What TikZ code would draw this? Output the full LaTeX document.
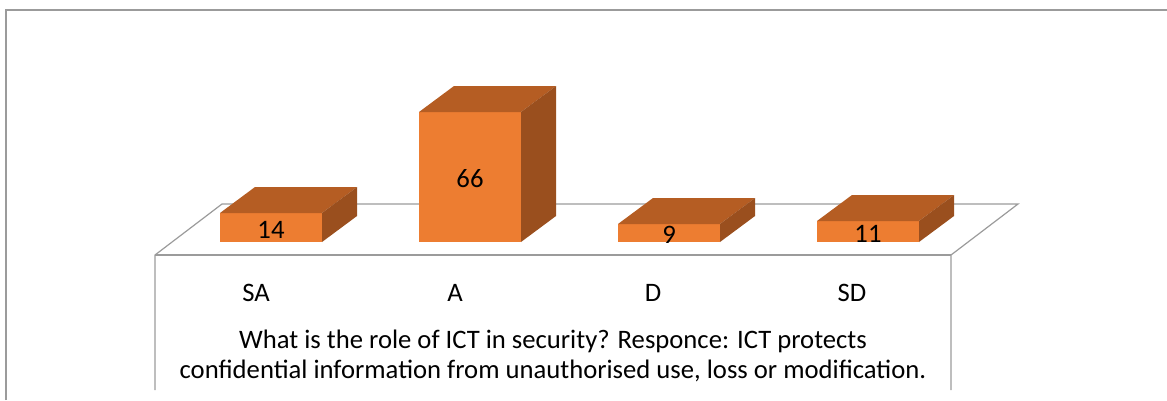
\documentclass[tikz,border=0pt]{standalone}
\usepackage{fontspec}
\setmainfont{Carlito}
\definecolor{barfront}{RGB}{237,125,49}
\definecolor{bartop}{RGB}{181,93,35}
\definecolor{barside}{RGB}{154,79,30}
\definecolor{framegray}{RGB}{155,155,155}
\begin{document}
\begin{tikzpicture}[x=0.75pt,y=0.75pt,yscale=-1,xscale=1,
  floorline/.style={draw=framegray,line width=0.9pt},
  valtext/.style={inner sep=0.75pt,font=\fontsize{20}{24}\selectfont},
  cattext/.style={inner sep=0.75pt,font=\fontsize{20}{24}\selectfont},
  titletext/.style={inner sep=0.75pt,align=center,font=\fontsize{20}{22.5}\selectfont}]
\useasboundingbox (0,0) rectangle (1167,400);

%Shape: Chart frame
\draw [framegray,line width=0.9pt] (6,400) -- (6,10) -- (1167,10) ;
%Shape: Floor
\draw [floorline] (155,390) -- (155,255) -- (222,204) -- (1018,204) -- (951,255) -- (951,390) ;
\draw [floorline] (155,255) -- (951,255) ;

%Shape: Bars (centre / height / value / name)
\foreach \cx/\h/\v/\n in {271/29/14/sa, 470/130/66/a, 669/18/9/d, 868/21/11/sd}{
  \fill [barfront] ({\cx-51},242) rectangle ({\cx+51},{242-\h}) ;
  \fill [bartop] ({\cx-51},{242-\h}) -- ({\cx+51},{242-\h}) -- ({\cx+86},{216-\h}) -- ({\cx-16},{216-\h}) -- cycle ;
  \fill [barside] ({\cx+51},242) -- ({\cx+51},{242-\h}) -- ({\cx+86},{216-\h}) -- ({\cx+86},216) -- cycle ;
  % Text Node
  \node [valtext] (val\n) at (\cx,{244-\h/2}) {\v} ;
}

% Text Node
\node [cattext] (catsa) at (256,293) {SA} ;
% Text Node
\node [cattext] (cata) at (455,293) {A} ;
% Text Node
\node [cattext] (catd) at (653,293) {D} ;
% Text Node
\node [cattext] (catsd) at (852,293) {SD} ;

% Text Node
\node [titletext] (title) at (553,356) {What is the role of ICT in security? Responce: ICT protects\\confidential information from unauthorised use, loss or modification.} ;

\end{tikzpicture}
\end{document}
